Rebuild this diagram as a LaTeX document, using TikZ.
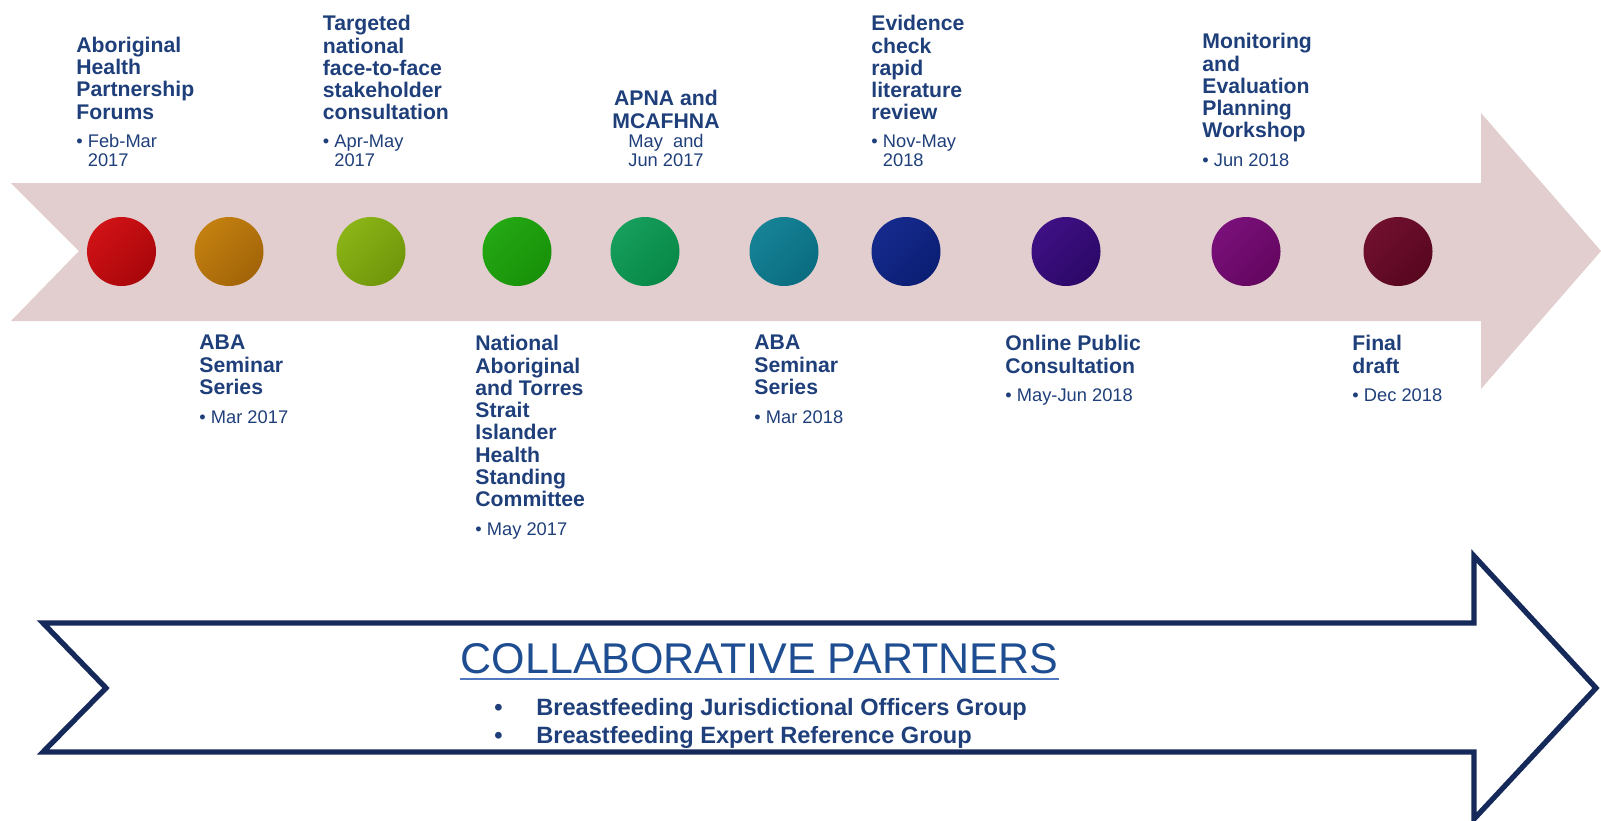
\documentclass[tikz,border=0pt]{standalone}
\usepackage{fontspec}
\setmainfont{Liberation Sans}
\usetikzlibrary{positioning}

\definecolor{navytext}{RGB}{31,63,122}
\definecolor{ribbon}{RGB}{226,206,206}
\definecolor{arrowline}{RGB}{21,42,90}
\definecolor{partner}{RGB}{30,78,145}
\definecolor{partnerline}{RGB}{80,120,190}
% milestone colours, light / dark
\definecolor{dotA1}{RGB}{208,18,22}   \definecolor{dotB1}{RGB}{168,6,10}
\definecolor{dotA2}{RGB}{195,128,16}  \definecolor{dotB2}{RGB}{162,100,8}
\definecolor{dotA3}{RGB}{138,180,22}  \definecolor{dotB3}{RGB}{112,150,10}
\definecolor{dotA4}{RGB}{36,168,20}   \definecolor{dotB4}{RGB}{24,145,8}
\definecolor{dotA5}{RGB}{22,158,92}   \definecolor{dotB5}{RGB}{8,136,70}
\definecolor{dotA6}{RGB}{22,130,150}  \definecolor{dotB6}{RGB}{10,108,128}
\definecolor{dotA7}{RGB}{22,42,142}   \definecolor{dotB7}{RGB}{10,30,115}
\definecolor{dotA8}{RGB}{62,16,132}   \definecolor{dotB8}{RGB}{44,8,104}
\definecolor{dotA9}{RGB}{122,16,122}  \definecolor{dotB9}{RGB}{100,6,96}
\definecolor{dotA10}{RGB}{112,16,46}  \definecolor{dotB10}{RGB}{88,6,32}

\newcommand{\dbul}{\textbullet\ }
\newcommand{\dind}{\phantom{\textbullet\ }}

\tikzset{
  stage/.style={anchor=north west, inner sep=0pt, align=left, text=navytext,
    text depth=0pt, font=\fontsize{10.6}{11.15}\selectfont\bfseries},
  when/.style={inner sep=0pt, align=left, text=navytext,
    font=\fontsize{9.15}{9.7}\selectfont},
  dot/.style 2 args={circle, inner sep=0pt, minimum size=34.5pt,
    top color=#1, bottom color=#2, shading angle=45},
  partneritem/.style={anchor=base west, inner sep=0pt, text=navytext,
    font=\fontsize{11.8}{14.25}\selectfont\bfseries},
}

\begin{document}
\begin{tikzpicture}[x=0.5pt, y=-0.5pt]
\useasboundingbox (0,0) rectangle (1601,820);

% timeline ribbon
\fill[ribbon] (11,183) -- (1481,183) -- (1481,113) -- (1601,251)
  -- (1481,389) -- (1481,321) -- (11,321) -- (79,251) -- cycle;

% milestones
\foreach \n/\x in {1/121.5,2/229,3/371,4/517,5/645,6/784,7/906,8/1066,9/1246,10/1398}
  \node[dot={dotA\n}{dotB\n}] (dot\n) at (\x,251.5) {};

% above the ribbon
\node[stage] (lab1) at (76,36.5) {Aboriginal\\Health\\Partnership\\Forums};
\node[when, below=7pt of lab1.south west, anchor=north west] (when1) {\dbul Feb-Mar\\\dind 2017};

\node[stage] (lab3) at (322.5,15) {Targeted\\national\\face-to-face\\stakeholder\\consultation};
\node[when, below=7pt of lab3.south west, anchor=north west] (when3) {\dbul Apr-May\\\dind 2017};

\node[stage, anchor=north, align=center] (lab5) at (666,90) {APNA and\\MCAFHNA};
\node[when, align=center, below=2.7pt of lab5.south] (when5) {May\ \ and\\Jun 2017};

\node[stage] (lab7) at (871,15) {Evidence\\check\\rapid\\literature\\review};
\node[when, below=7pt of lab7.south west, anchor=north west] (when7) {\dbul Nov-May\\\dind 2018};

\node[stage] (lab9) at (1202,33) {Monitoring\\and\\Evaluation\\Planning\\Workshop};
\node[when, below=7.5pt of lab9.south west, anchor=north west] (when9) {\dbul Jun 2018};

% below the ribbon
\node[stage] (lab2) at (199,335) {ABA\\Seminar\\Series};
\node[when, below=7.5pt of lab2.south west, anchor=north west] (when2) {\dbul Mar 2017};

\node[stage] (lab4) at (475,335) {National\\Aboriginal\\and Torres\\Strait\\Islander\\Health\\Standing\\Committee};
\node[when, below=7.5pt of lab4.south west, anchor=north west] (when4) {\dbul May 2017};

\node[stage] (lab6) at (754,335) {ABA\\Seminar\\Series};
\node[when, below=7.5pt of lab6.south west, anchor=north west] (when6) {\dbul Mar 2018};

\node[stage] (lab8) at (1005,335) {Online Public\\Consultation};
\node[when, below=7.5pt of lab8.south west, anchor=north west] (when8) {\dbul May-Jun 2018};

\node[stage] (lab10) at (1352,335) {Final\\draft};
\node[when, below=7.5pt of lab10.south west, anchor=north west] (when10) {\dbul Dec 2018};

% partners arrow
\draw[arrowline, line width=2.65pt, line join=miter] (43,623) -- (1474,623) -- (1474,556)
  -- (1596,688) -- (1474,819) -- (1474,752) -- (43,752) -- (106,688) -- cycle;

\node[anchor=base, inner sep=0pt, text=partner, font=\fontsize{21.5}{24}\selectfont]
  (collab) at (759.5,673) {COLLABORATIVE PARTNERS};
\draw[partnerline, line width=1.1pt] ([yshift=-3pt]collab.base west) -- ([yshift=-3pt]collab.base east);

\node[partneritem] (item1) at (494,715) {\makebox[21pt][l]{\textbullet}Breastfeeding Jurisdictional Officers Group};
\node[partneritem] (item2) at (494,743) {\makebox[21pt][l]{\textbullet}Breastfeeding Expert Reference Group};
\end{tikzpicture}
\end{document}
